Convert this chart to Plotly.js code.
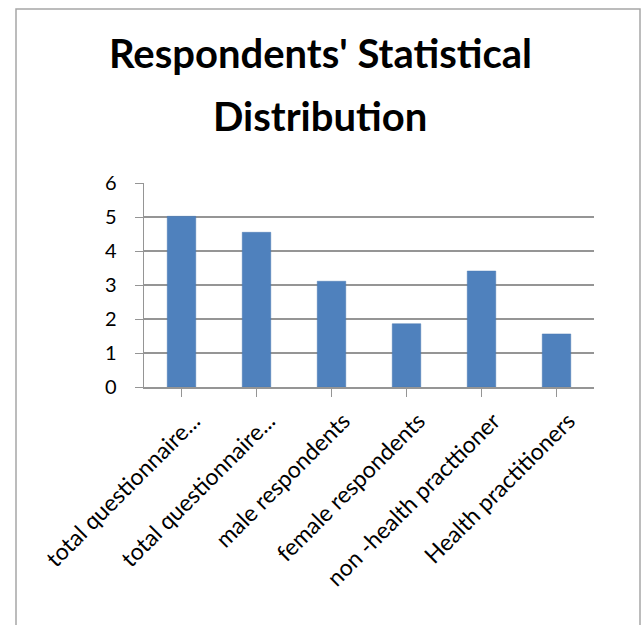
<!DOCTYPE html>
<html>
<head>
<meta charset="utf-8">
<script src="https://cdn.plot.ly/plotly-3.0.1.min.js"></script>
<style>html,body{margin:0;padding:0;background:#fff;}</style>
</head>
<body>
<div id="chart" style="width:641px;height:625px;"></div>
<script>
const categories = [
  "total questionnaire...",
  "total questionnaire...",
  "male respondents",
  "female respondents",
  "non -health practtioner",
  "Health practitioners"
];
const values = [5.02, 4.55, 3.11, 1.86, 3.41, 1.56];
const yTicks = [0, 1, 2, 3, 4, 5, 6];
const titleLine1 = "Respondents' Statistical";
const titleLine2 = "Distribution";

const xIdx = categories.map((c, i) => i);

const trace = {
  type: 'bar',
  x: xIdx,
  y: values,
  marker: {color: '#4F81BD', line: {color: '#4A7AB3', width: 0.5}},
  hoverinfo: 'y',
  showlegend: false
};

const gray = '#959595';
const titleFont = {family: 'Lato, sans-serif', size: 40, color: '#000', weight: 'bold'};
const layout = {
  width: 641, height: 625,
  margin: {l: 144, r: 47, t: 183, b: 238},
  paper_bgcolor: '#fff', plot_bgcolor: '#fff',
  bargap: 0.62,
  font: {family: 'Lato, "Open Sans", sans-serif', color: '#000'},
  title: {
    text: titleLine1,
    font: titleFont,
    x: 0.5, xanchor: 'center', xref: 'container',
    y: 1 - 68/625, yanchor: 'bottom', yref: 'container', pad: {b: 0}
  },
  annotations: [{
    text: titleLine2, showarrow: false,
    font: titleFont,
    xref: 'paper', yref: 'paper', x: (320 - 144) / 450, y: (387 - 142) / 204,
    xanchor: 'center', yanchor: 'bottom'
  }],
  xaxis: {
    tickmode: 'array', tickvals: xIdx, ticktext: categories,
    tickangle: -45, tickfont: {size: 23, color: '#000'},
    tickson: 'boundaries', ticks: 'outside', ticklen: 8, tickcolor: gray,
    ticklabelstandoff: 2, ticklabelshift: 12,
    showline: true, linecolor: gray, linewidth: 1.5,
    showgrid: false, zeroline: false, range: [-0.5, 5.5], fixedrange: true
  },
  yaxis: {
    range: [0, 6], tickmode: 'array', tickvals: yTicks,
    tickfont: {size: 20, color: '#000'},
    ticks: 'outside', ticklen: 8, tickcolor: gray, ticklabelstandoff: 14,
    showline: true, linecolor: gray, linewidth: 1.5,
    showgrid: true, gridcolor: gray, gridwidth: 1.5,
    zeroline: false, fixedrange: true
  },
  shapes: [{
    type: 'rect', xref: 'paper', yref: 'paper',
    x0: (16 - 144) / 450, x1: (640 - 144) / 450,
    y0: (387 - 660) / 204, y1: (387 - 9) / 204,
    line: {color: '#a6a6a6', width: 1.5}, fillcolor: 'rgba(0,0,0,0)', layer: 'below'
  }]
};

Plotly.newPlot('chart', [trace], layout, {displayModeBar: false, staticPlot: true});
</script>
</body>
</html>
